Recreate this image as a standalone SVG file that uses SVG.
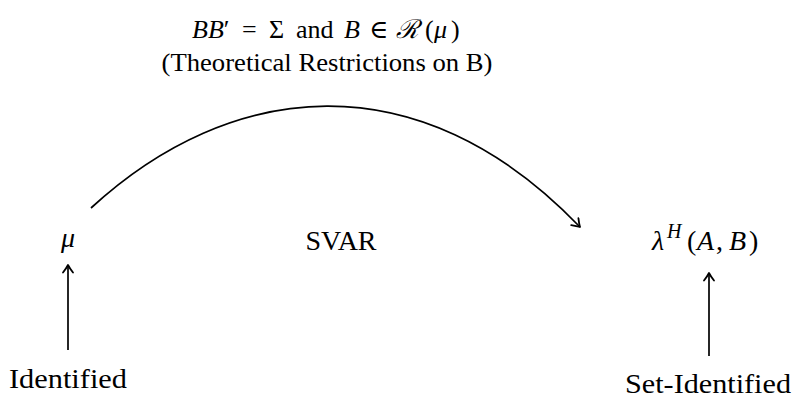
<svg xmlns="http://www.w3.org/2000/svg" width="795" height="398" viewBox="0 0 795 398">
<defs>
<style>
text{font-family:"Liberation Serif","DejaVu Serif",serif;fill:#000}
.top{font-size:26px}
.n{font-size:28px}
.i{font-style:italic}
.c{stroke:#000;stroke-width:1.7;fill:none}
</style>
<marker id="ah" viewBox="-9 -6 11 12" markerWidth="11" markerHeight="12" refX="0" refY="0" orient="auto" markerUnits="userSpaceOnUse">
<path d="M-7.5,-5 Q-3,-1.5 0,0 Q-3,1.5 -7.5,5" fill="none" stroke="#000" stroke-width="1.8" stroke-linecap="round" stroke-linejoin="round"/>
</marker>
</defs>
<rect width="795" height="398" fill="#fff"/>
<g id="label-top">
<text class="top" y="38"><tspan class="i" x="192">BB</tspan><tspan>′</tspan><tspan x="242">=</tspan><tspan x="269">Σ</tspan><tspan x="296">and</tspan><tspan class="i" x="344">B</tspan><tspan x="369">∈</tspan><tspan class="i" x="396">ℛ</tspan><tspan x="425">(</tspan><tspan class="i" x="434">μ</tspan><tspan x="451">)</tspan></text>
<text class="top" x="327" y="71" text-anchor="middle" textLength="331" lengthAdjust="spacingAndGlyphs">(Theoretical Restrictions on B)</text>
</g>
<g id="node-mu"><text class="n i" x="68" y="247" text-anchor="middle">μ</text></g>
<g id="node-svar"><text class="n" x="341" y="250" text-anchor="middle">SVAR</text></g>
<g id="node-lambda"><text class="n" y="250" font-size="30"><tspan class="i" x="652">λ</tspan><tspan class="i" font-size="20" x="667" y="238">H</tspan><tspan x="687" y="250">(</tspan><tspan class="i" x="697">A</tspan><tspan x="716">,</tspan><tspan class="i" x="729">B</tspan><tspan x="749">)</tspan></text></g>
<g id="node-identified"><text class="n" x="68" y="388" text-anchor="middle" textLength="118" lengthAdjust="spacingAndGlyphs">Identified</text></g>
<g id="node-setidentified"><text class="n" x="708" y="393" text-anchor="middle" textLength="166" lengthAdjust="spacingAndGlyphs">Set-Identified</text></g>
<g id="connectors">
<path class="c" d="M91,208 C230,80 418,58 580,227" marker-end="url(#ah)"/>
<path class="c" d="M68,350 L68,265" marker-end="url(#ah)"/>
<path class="c" d="M709,356 L709,273" marker-end="url(#ah)"/>
</g>
</svg>
